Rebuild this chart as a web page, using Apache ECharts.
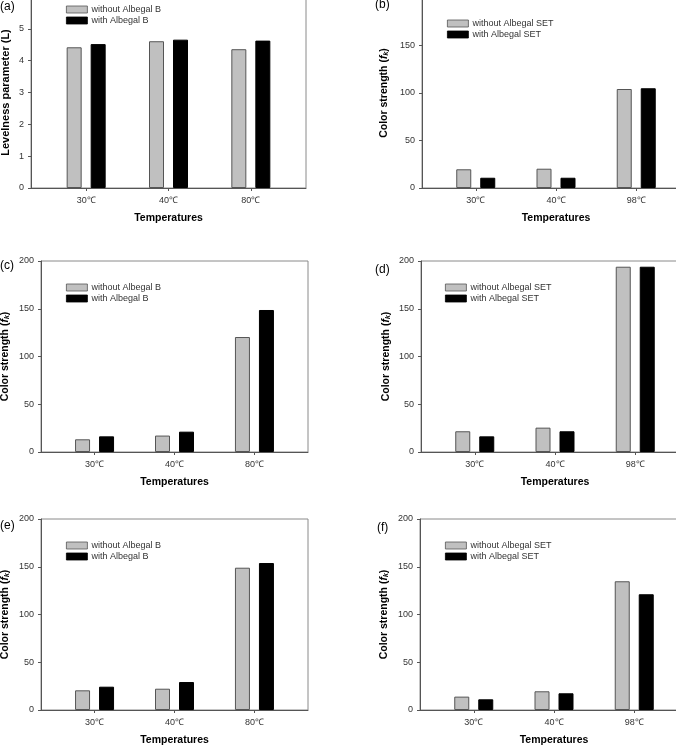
<!DOCTYPE html>
<html>
<head>
<meta charset="utf-8">
<script src="https://cdn.jsdelivr.net/npm/echarts@6/dist/echarts.min.js"></script>
<style>
  html, body { margin: 0; padding: 0; background: #fff; }
  #echart { width: 676px; height: 751px; }
</style>
</head>
<body>
<div id="echart"></div>
<script>
// categories (x axis)
const tempsB = ['30℃', '40℃', '80℃'];
const tempsSET = ['30℃', '40℃', '98℃'];

// series values
const aWithout = [4.42, 4.61, 4.36];
const aWith = [4.52, 4.66, 4.63];
const bWithout = [19.7, 20.3, 104.2];
const bWith = [10.8, 10.8, 105];
const cWithout = [13.3, 17.2, 120.4];
const cWith = [16.4, 21.3, 148.7];
const dWithout = [21.7, 25.5, 194];
const dWith = [16.4, 21.7, 194];
const eWithout = [20.6, 22.3, 149];
const eWith = [24.4, 29.3, 153.9];
const fWithout = [14, 19.6, 134.8];
const fWith = [11.2, 17.5, 121.2];

const namesB = ['without Albegal B', 'with Albegal B'];
const namesSET = ['without Albegal SET', 'with Albegal SET'];

const FONT = '"Liberation Sans", Arial, sans-serif';

// panel list: data + where it goes on the page
const panels = [
  { tag: '(a)', cats: tempsB, names: namesB, without: aWithout, withA: aWith, yMax: 6, yStep: 1,
    yName: 'Levelness parameter (L)', grid: { left: 31, top: -3, width: 275, height: 191 },
    legend: { left: 66, top: 5 }, tagPos: { left: 0, top: 1 }, yGap: 20, nameSize: 11 },
  { tag: '(b)', cats: tempsSET, names: namesSET, without: bWithout, withA: bWith, yMax: 200, yStep: 50,
    yName: 'fk', grid: { left: 422, top: -2, width: 268, height: 190 },
    legend: { left: 447, top: 19 }, tagPos: { left: 375, top: -1 }, yGap: 32 },
  { tag: '(c)', cats: tempsB, names: namesB, without: cWithout, withA: cWith, yMax: 200, yStep: 50,
    yName: 'fk', grid: { left: 41, top: 261, width: 267, height: 191 },
    legend: { left: 66, top: 283 }, tagPos: { left: 0, top: 260 }, yGap: 30 },
  { tag: '(d)', cats: tempsSET, names: namesSET, without: dWithout, withA: dWith, yMax: 200, yStep: 50,
    yName: 'fk', grid: { left: 421, top: 261, width: 268, height: 191 },
    legend: { left: 445, top: 283 }, tagPos: { left: 375, top: 264 }, yGap: 29 },
  { tag: '(e)', cats: tempsB, names: namesB, without: eWithout, withA: eWith, yMax: 200, yStep: 50,
    yName: 'fk', grid: { left: 41, top: 519, width: 267, height: 191 },
    legend: { left: 66, top: 541 }, tagPos: { left: 0, top: 520 }, yGap: 30 },
  { tag: '(f)', cats: tempsSET, names: namesSET, without: fWithout, withA: fWith, yMax: 200, yStep: 50,
    yName: 'fk', grid: { left: 420, top: 519, width: 268, height: 191 },
    legend: { left: 445, top: 541 }, tagPos: { left: 377, top: 522 }, yGap: 30 }
];

let myChart = echarts.init(document.getElementById('echart'));

let grid = [], xAxis = [], yAxis = [], series = [], legend = [], title = [];

panels.forEach((p, i) => {
  grid.push(Object.assign({
    show: true, borderColor: '#8a8a8a', borderWidth: 1, backgroundColor: 'transparent',
    containLabel: false, outerBoundsMode: 'none'
  }, p.grid));

  // categories sit at 1,2,3 on a value axis so the side padding matches the figure
  const cats = p.cats;
  xAxis.push({
    type: 'value', gridIndex: i, min: 0.33, max: 3.67,
    splitLine: { show: false },
    axisLine: { show: true, onZero: false, lineStyle: { color: '#555', width: 1 } },
    axisTick: { show: true, length: 3, customValues: [1, 2, 3], lineStyle: { color: '#555' } },
    axisLabel: {
      customValues: [1, 2, 3], margin: 8, fontSize: 9, color: '#333', fontFamily: FONT,
      formatter: (v) => cats[Math.round(v) - 1] || ''
    },
    name: 'Temperatures', nameLocation: 'middle', nameGap: 25,
    nameTextStyle: { fontSize: 10.5, fontWeight: 'bold', color: '#000', fontFamily: FONT }
  });

  let yName = p.yName === 'fk' ? '{n|Color strength (}{i|f}{k|k}{n|)}' : p.yName;
  yAxis.push({
    type: 'value', gridIndex: i, min: 0, max: p.yMax, interval: p.yStep,
    splitLine: { show: false },
    axisLine: { show: true, lineStyle: { color: '#555', width: 1 } },
    axisTick: { show: true, length: 3, lineStyle: { color: '#555' } },
    axisLabel: { margin: 7, fontSize: 9, color: '#333', fontFamily: FONT },
    name: yName, nameLocation: 'middle', nameGap: p.yGap, nameRotate: 90,
    nameTextStyle: {
      fontSize: p.nameSize || 10.5, fontWeight: 'bold', color: '#000', fontFamily: FONT,
      rich: {
        n: { fontSize: 10.5, fontWeight: 'bold', fontFamily: FONT, color: '#000', lineHeight: 12 },
        i: { fontSize: 10.5, fontWeight: 'bold', fontStyle: 'italic', fontFamily: FONT, color: '#000', lineHeight: 12 },
        k: { fontSize: 7, fontWeight: 'bold', fontStyle: 'italic', fontFamily: FONT, color: '#000',
             lineHeight: 7, verticalAlign: 'bottom' }
      }
    }
  });

  series.push({
    name: p.names[0], type: 'bar', xAxisIndex: i, yAxisIndex: i,
    barWidth: 15, barGap: '60%',
    itemStyle: { color: '#c0c0c0', borderColor: '#555', borderWidth: 1 },
    data: p.without.map((v, k) => [k + 1, v])
  });
  series.push({
    name: p.names[1], type: 'bar', xAxisIndex: i, yAxisIndex: i,
    barWidth: 15, barGap: '60%',
    itemStyle: { color: '#000', borderColor: '#000', borderWidth: 1 },
    data: p.withA.map((v, k) => [k + 1, v])
  });

  legend.push({
    data: p.names, orient: 'vertical', left: p.legend.left, top: p.legend.top,
    padding: 0, itemWidth: 21, itemHeight: 7, itemGap: 2, icon: 'rect',
    selectedMode: false,
    itemStyle: { borderWidth: 0.8 },
    textStyle: { fontSize: 9, lineHeight: 9, color: '#333', fontFamily: FONT, padding: [0, 0, 0, -1] }
  });

  title.push({
    text: p.tag, left: p.tagPos.left, top: p.tagPos.top, padding: 0,
    textStyle: { fontSize: 12, fontWeight: 'normal', color: '#000', fontFamily: FONT }
  });
});

myChart.setOption({
  animation: false,
  backgroundColor: '#fff',
  title: title,
  legend: legend,
  grid: grid,
  xAxis: xAxis,
  yAxis: yAxis,
  series: series
});
</script>
</body>
</html>
